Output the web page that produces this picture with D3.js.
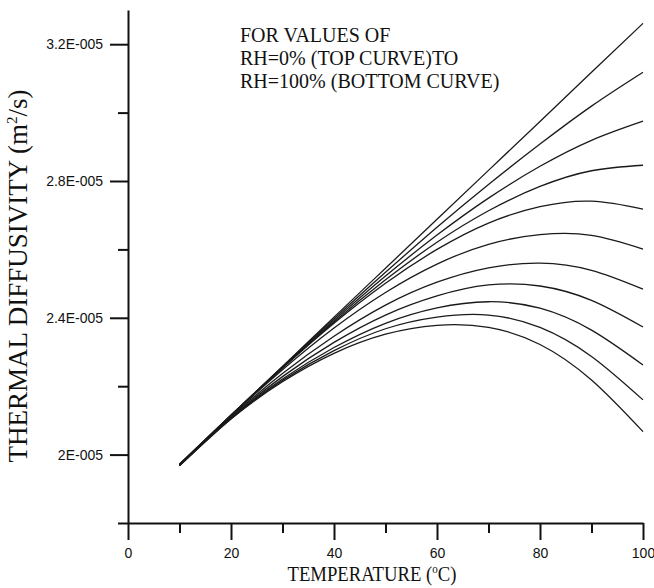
<!DOCTYPE html>
<html>
<head>
  <meta charset="utf-8">
  <script src="https://d3js.org/d3.v7.min.js"></script>
  <style>
    body { margin: 0; background: #fff; }
    .tick text { font-family: "Liberation Sans", Arial, sans-serif; font-size: 14px; fill: #111; }
    .serif { font-family: "Liberation Serif", "Times New Roman", serif; fill: #111; }
  </style>
</head>
<body>
<script>
// temperature (deg C) at which the curves were read
var temps = [10, 20, 30, 40, 50, 60, 70, 80, 90, 100];

// thermal diffusivity, in units of 1E-005 m2/s, RH = 0% (top) ... 100% (bottom)
var rh0   = [1.972, 2.115, 2.258, 2.402, 2.545, 2.688, 2.831, 2.974, 3.118, 3.261];
var rh10  = [1.972, 2.115, 2.257, 2.397, 2.533, 2.665, 2.790, 2.908, 3.019, 3.118];
var rh20  = [1.971, 2.115, 2.255, 2.392, 2.522, 2.642, 2.750, 2.843, 2.919, 2.975];
var rh30  = [1.971, 2.115, 2.254, 2.388, 2.511, 2.621, 2.713, 2.784, 2.830, 2.846];
var rh40  = [1.970, 2.114, 2.253, 2.384, 2.501, 2.600, 2.677, 2.725, 2.741, 2.718];
var rh50  = [1.970, 2.113, 2.248, 2.370, 2.474, 2.557, 2.615, 2.643, 2.641, 2.601];
var rh60  = [1.969, 2.110, 2.237, 2.346, 2.437, 2.504, 2.546, 2.560, 2.539, 2.484];
var rh70  = [1.969, 2.108, 2.228, 2.328, 2.408, 2.464, 2.496, 2.493, 2.451, 2.373];
var rh80  = [1.968, 2.107, 2.221, 2.313, 2.384, 2.429, 2.447, 2.428, 2.364, 2.262];
var rh90  = [1.968, 2.105, 2.217, 2.304, 2.368, 2.402, 2.408, 2.372, 2.287, 2.160];
var rh100 = [1.967, 2.104, 2.213, 2.296, 2.352, 2.378, 2.372, 2.322, 2.218, 2.067];
var series = [rh0, rh10, rh20, rh30, rh40, rh50, rh60, rh70, rh80, rh90, rh100];

// axis ticks
var xMajor = [0, 20, 40, 60, 80, 100];
var xMinor = [10, 30, 50, 70, 90];
var yMajor = [2.0, 2.4, 2.8, 3.2];
var yMajorLabels = ["2E-005", "2.4E-005", "2.8E-005", "3.2E-005"];
var yMinor = [1.8, 2.2, 2.6, 3.0];

var noteLines = ["FOR VALUES OF", "RH=0% (TOP CURVE)TO", "RH=100% (BOTTOM CURVE)"];

var svg_w = 654, svg_h = 588;
var svg = d3.select("body").append("svg")
    .attr("width", svg_w)
    .attr("height", svg_h);

var xscale = d3.scaleLinear().domain([0, 100]).range([128, 643]);
var yscale = d3.scaleLinear().domain([1.8, 3.3]).range([523, 10]);

// curves
var line = d3.line()
    .x(function(d, i) { return xscale(temps[i]); })
    .y(function(d) { return yscale(d); })
    .curve(d3.curveNatural);

svg.selectAll("path.curve")
    .data(series)
    .enter()
    .append("path")
    .attr("class", "curve")
    .attr("d", line)
    .style("fill", "none")
    .style("stroke", "#1a1a1a")
    .style("stroke-width", 1.3);

// x axis
svg.append("g")
    .attr("transform", "translate(0," + yscale(1.8) + ")")
    .call(d3.axisBottom(xscale).tickValues(xMajor).tickSize(17).tickSizeOuter(0).tickPadding(8)
      .tickFormat(d3.format("d")));
svg.append("g")
    .attr("transform", "translate(0," + yscale(1.8) + ")")
    .call(d3.axisBottom(xscale).tickValues(xMinor).tickSize(10).tickSizeOuter(0).tickFormat(""))
    .select(".domain").remove();

// y axis
svg.append("g")
    .attr("transform", "translate(" + xscale(0) + ",0)")
    .call(d3.axisLeft(yscale).tickValues(yMajor).tickSize(18).tickSizeOuter(0).tickPadding(7)
      .tickFormat(function(d, i) { return yMajorLabels[i]; }));
svg.append("g")
    .attr("transform", "translate(" + xscale(0) + ",0)")
    .call(d3.axisLeft(yscale).tickValues(yMinor).tickSize(10).tickSizeOuter(0).tickFormat(""))
    .select(".domain").remove();

svg.selectAll(".domain, .tick line")
    .style("stroke", "#111")
    .style("stroke-width", 2);

// axis titles
var xt = svg.append("text")
    .attr("class", "serif")
    .attr("transform", "translate(372,581) scale(0.85,1)")
    .style("text-anchor", "middle")
    .style("font-size", "22px")
    .text("TEMPERATURE (");
xt.append("tspan").attr("dy", -8).style("font-size", "13px").text("o");
xt.append("tspan").attr("dy", 8).text("C)");

var yt = svg.append("text")
    .attr("class", "serif")
    .attr("transform", "translate(27,276) rotate(-90)")
    .style("text-anchor", "middle")
    .style("font-size", "27px")
    .text("THERMAL DIFFUSIVITY  (m");
yt.append("tspan").attr("dy", -10).style("font-size", "15px").text("2");
yt.append("tspan").attr("dy", 10).text("/s)");

// note
svg.append("g").selectAll("text")
    .data(noteLines)
    .enter()
    .append("text")
    .attr("class", "serif")
    .attr("x", 240)
    .attr("y", function(d, i) { return 42 + i * 23; })
    .style("font-size", "20px")
    .text(function(d) { return d; });
</script>
</body>
</html>
